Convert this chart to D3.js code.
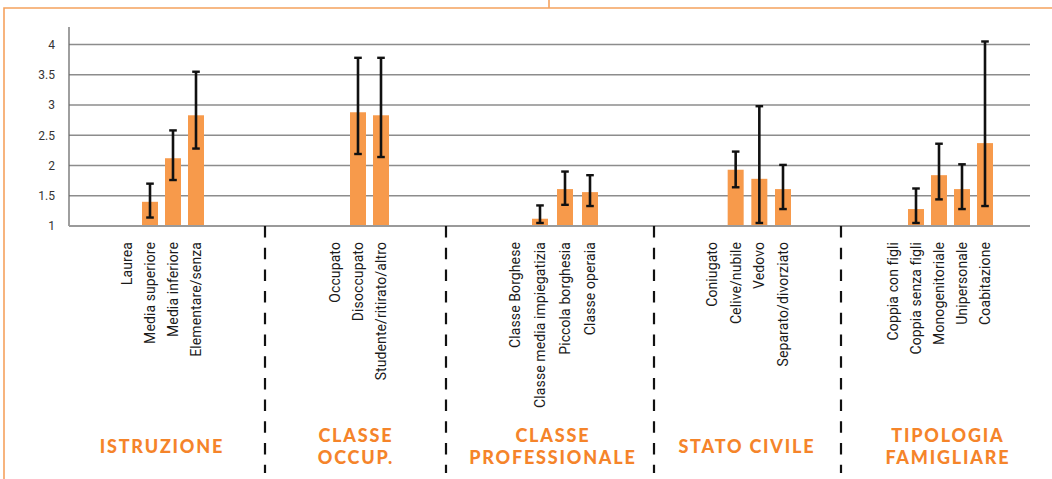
<!DOCTYPE html>
<html><head><meta charset="utf-8">
<script src="https://cdn.jsdelivr.net/npm/d3@7"></script>
<style>
html,body{margin:0;padding:0;background:#fff;}
svg{display:block;}
</style></head>
<body>
<svg id="chart" width="1052" height="479"></svg>
<script>
// ---- data ----
const groupTitles = [["ISTRUZIONE"], ["CLASSE", "OCCUP."], ["CLASSE", "PROFESSIONALE"], ["STATO CIVILE"], ["TIPOLOGIA", "FAMIGLIARE"]];
const catIstruzione = ["Laurea", "Media superiore", "Media inferiore", "Elementare/senza"];
const catOccup = ["Occupato", "Disoccupato", "Studente/ritirato/altro"];
const catProf = ["Classe Borghese", "Classe media impiegatizia", "Piccola borghesia", "Classe operaia"];
const catCivile = ["Coniugato", "Celive/nubile", "Vedovo", "Separato/divorziato"];
const catFamiglia = ["Coppia con figli", "Coppia senza figli", "Monogenitoriale", "Unipersonale", "Coabitazione"];

const valIstruzione = [1, 1.40, 2.12, 2.83];
const lowIstruzione = [null, 1.14, 1.76, 2.28];
const highIstruzione = [null, 1.70, 2.58, 3.55];

const valOccup = [1, 2.88, 2.83];
const lowOccup = [null, 2.19, 2.14];
const highOccup = [null, 3.78, 3.78];

const valProf = [1, 1.12, 1.61, 1.56];
const lowProf = [null, 1.05, 1.35, 1.33];
const highProf = [null, 1.34, 1.90, 1.84];

const valCivile = [1, 1.93, 1.78, 1.61];
const lowCivile = [null, 1.64, 1.05, 1.28];
const highCivile = [null, 2.23, 2.98, 2.01];

const valFamiglia = [1, 1.28, 1.84, 1.61, 2.37];
const lowFamiglia = [null, 1.05, 1.44, 1.28, 1.33];
const highFamiglia = [null, 1.62, 2.36, 2.02, 4.05];

const yTicks = [1, 1.5, 2, 2.5, 3, 3.5, 4];

// ---- layout ----
const groups = [
  {cats: catIstruzione, vals: valIstruzione, lo: lowIstruzione, hi: highIstruzione, span: [127, 196], title: groupTitles[0], tx: 161},
  {cats: catOccup, vals: valOccup, lo: lowOccup, hi: highOccup, span: [335, 381], title: groupTitles[1], tx: 355},
  {cats: catProf, vals: valProf, lo: lowProf, hi: highProf, span: [515, 590], title: groupTitles[2], tx: 552},
  {cats: catCivile, vals: valCivile, lo: lowCivile, hi: highCivile, span: [712, 783], title: groupTitles[3], tx: 746},
  {cats: catFamiglia, vals: valFamiglia, lo: lowFamiglia, hi: highFamiglia, span: [893, 985], title: groupTitles[4], tx: 947}
];
const separators = [265, 446, 654, 841];

const svg = d3.select("#chart");
const y = d3.scaleLinear().domain([1, 4]).range([226, 44.5]);
const xL = 69, xR = 1030;
const barW = 16;
const orange = "#F79A4B";

// border
svg.append("path").attr("d", "M4,479 L4,8 L1052,8 M549,0 L549,8")
  .attr("fill", "none").attr("stroke", "#F5A25E").attr("stroke-width", 1.6);

// gridlines
svg.append("g").selectAll("line").data(yTicks.slice(1)).join("line")
  .attr("x1", xL).attr("x2", xR).attr("y1", d => y(d)).attr("y2", d => y(d))
  .attr("stroke", "#8c8c8c").attr("stroke-width", 1.6);

// y axis
const yAxis = d3.axisLeft(y).tickValues(yTicks).tickSize(0).tickPadding(14).tickFormat(d3.format("~g"));
const ga = svg.append("g").attr("transform", `translate(${xL},0)`).call(yAxis);
ga.select(".domain").remove();
ga.selectAll("text").attr("font-family", "Roboto, sans-serif").attr("font-size", 12).attr("fill", "#333");
svg.append("line").attr("x1", xL).attr("x2", xL).attr("y1", 27).attr("y2", 226)
  .attr("stroke", "#6b6b6b").attr("stroke-width", 1.3);

// bars
groups.forEach(g => {
  const x = d3.scalePoint().domain(g.cats).range(g.span);
  const data = g.cats.map((c, i) => ({c, v: g.vals[i], lo: g.lo[i], hi: g.hi[i]}));
  const gg = svg.append("g");
  gg.selectAll("rect").data(data.filter(d => d.v > 1)).join("rect")
    .attr("x", d => x(d.c) - barW / 2).attr("width", barW)
    .attr("y", d => y(d.v)).attr("height", d => y(1) - y(d.v))
    .attr("fill", orange);
  const eb = data.filter(d => d.lo !== null);
  gg.selectAll("line.v").data(eb).join("line").attr("class", "v")
    .attr("x1", d => x(d.c)).attr("x2", d => x(d.c))
    .attr("y1", d => y(d.lo)).attr("y2", d => y(d.hi))
    .attr("stroke", "#111").attr("stroke-width", 2.6);
  ["lo", "hi"].forEach(k => {
    gg.selectAll("line." + k).data(eb).join("line").attr("class", k)
      .attr("x1", d => x(d.c) - 3.8).attr("x2", d => x(d.c) + 3.8)
      .attr("y1", d => y(d[k])).attr("y2", d => y(d[k]))
      .attr("stroke", "#111").attr("stroke-width", 2.4);
  });
  // category labels
  gg.selectAll("text.cat").data(g.cats).join("text").attr("class", "cat")
    .attr("transform", d => `translate(${x(d)},242) rotate(-90)`)
    .attr("dy", "0.36em").attr("text-anchor", "end")
    .attr("font-family", "Roboto, sans-serif").attr("font-size", 14).attr("letter-spacing", 0.1)
    .attr("fill", "#1a1a1a")
    .text(d => d);
  // titles
  const lines = g.title;
  const baselines = lines.length === 1 ? [453] : [442, 464];
  lines.forEach((ln, i) => svg.append("text").attr("text-anchor", "middle")
    .attr("x", g.tx + 0.9).attr("y", baselines[i])
    .attr("font-family", "Lato, sans-serif").attr("font-weight", 900).attr("font-size", 18)
    .attr("letter-spacing", 1.8).attr("fill", "#F5842A").text(ln));
});

// baseline
svg.append("line").attr("x1", xL).attr("x2", xR).attr("y1", y(1)).attr("y2", y(1))
  .attr("stroke", "#9a9a9a").attr("stroke-width", 2.2);

// separators
svg.append("g").selectAll("line").data(separators).join("line")
  .attr("x1", d => d).attr("x2", d => d).attr("y1", 226).attr("y2", 473)
  .attr("stroke", "#111").attr("stroke-width", 2.2).attr("stroke-dasharray", "11.5,10.2");
</script>
</body></html>
